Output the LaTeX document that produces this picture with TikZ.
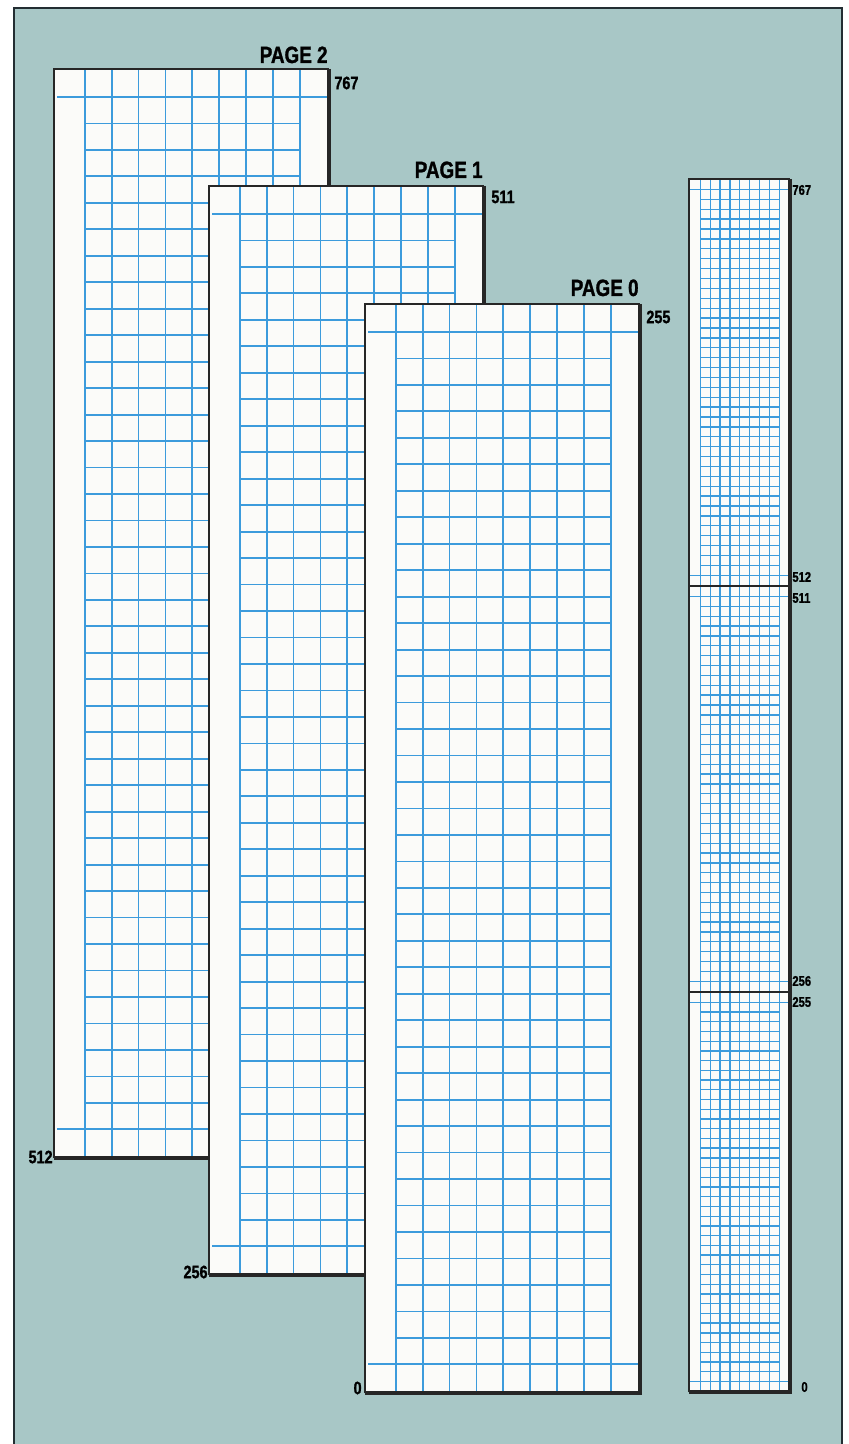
\documentclass[tikz,border=0pt]{standalone}
\usepackage{fontspec}
\newfontfamily\labelfont{Liberation Sans}[FakeStretch=0.8, BoldFeatures={FakeBold=1.2}]
\definecolor{panelteal}{RGB}{168,199,198}
\definecolor{panelline}{RGB}{35,45,50}
\definecolor{gridblue}{RGB}{60,155,220}
\definecolor{paperwhite}{RGB}{251,251,249}
\usetikzlibrary{positioning}

\tikzset{
  gridline/.style={gridblue, line width=0.9pt},
  edgethin/.style={black!85, line width=0.9pt},
  edgethick/.style={black!85, line width=1.6pt},
  pagetitle/.style={font=\labelfont\bfseries\fontsize{11.8}{12}\selectfont, inner sep=0pt, anchor=base east},
  pagenum/.style={font=\labelfont\bfseries\fontsize{9}{10}\selectfont, inner sep=0pt},
  stripnum/.style={font=\labelfont\bfseries\fontsize{7}{8}\selectfont, inner sep=0pt, anchor=west}
}

% one sheet of squared paper: left, top, width, height (px)
\newcommand{\gridpage}[4]{%
  \fill[paperwhite] (#1,#2) rectangle ++(#3,#4);
  \foreach \i in {0,...,8}
    \draw[gridline] ({#1+#3*(0.112+0.0978*\i)},#2) -- ++(0,#4);
  \foreach \k in {1,...,38}
    \draw[gridline] ({#1+#3*0.112},{#2+#4*(0.0257+0.0243*\k)})
      -- ({#1+#3*0.8944},{#2+#4*(0.0257+0.0243*\k)});
  \foreach \k in {0,39}
    \draw[gridline] ({#1+#3*0.011},{#2+#4*(0.0257+0.0243*\k)})
      -- ({#1+#3},{#2+#4*(0.0257+0.0243*\k)});
}

\begin{document}
\begin{tikzpicture}[x=0.5pt, y=-0.5pt]
  \useasboundingbox (0,0) rectangle (848,1444);
  % Background panel
  \fill[white] (0,0) rectangle (848,1444);
  \fill[panelteal] (14,8) rectangle (842,1444);
  \draw[panelline, line width=1pt] (14,1444) -- (14,8) -- (842,8) -- (842,1444);

  % Page 2
  \gridpage{54}{69}{275}{1089}
  \draw[edgethin] (54,1158) -- (54,69) -- (329,69);
  \draw[edgethick] (329,69) -- (329,1158) -- (54,1158);
  \node[pagetitle] (p2title) at (328,63) {PAGE 2};
  \node[pagenum, anchor=west] (p2high) at (334,83) {767};
  \node[pagenum, anchor=east] (p2low) at (53,1157) {512};

  % Page 1
  \gridpage{209}{186}{275}{1089}
  \draw[edgethin] (209,1275) -- (209,186) -- (484,186);
  \draw[edgethick] (484,186) -- (484,1275) -- (209,1275);
  \node[pagetitle] (p1title) at (483,178) {PAGE 1};
  \node[pagenum, anchor=west] (p1high) at (491,197) {511};
  \node[pagenum, anchor=east] (p1low) at (208,1272) {256};

  % Page 0
  \gridpage{365}{304}{275}{1089}
  \draw[edgethin] (365,1393) -- (365,304) -- (640,304);
  \draw[edgethick] (640,304) -- (640,1393) -- (365,1393);
  \node[pagetitle] (p0title) at (639,296) {PAGE 0};
  \node[pagenum, anchor=west] (p0high) at (646,317) {255};
  \node[pagenum, anchor=east] (p0low) at (362,1388) {0};

  % Whole memory strip (pages stacked)
  \begin{scope}[gridline/.append style={line width=0.65pt}]
    \gridpage{689}{179}{101}{407}
    \gridpage{689}{586}{101}{406}
    \gridpage{689}{992}{101}{400}
  \end{scope}
  \draw[edgethin] (689,586) -- (790,586);
  \draw[edgethin] (689,992) -- (790,992);
  \draw[edgethin] (689,1392) -- (689,179) -- (790,179);
  \draw[edgethick] (790,179) -- (790,1392) -- (689,1392);
  \node[stripnum] (s767) at (792,190) {767};
  \node[stripnum] (s512) at (792,577) {512};
  \node[stripnum] (s511) at (792,598) {511};
  \node[stripnum] (s256) at (792,981) {256};
  \node[stripnum] (s255) at (792,1002) {255};
  \node[stripnum] (s0) at (801,1387) {0};
\end{tikzpicture}
\end{document}
